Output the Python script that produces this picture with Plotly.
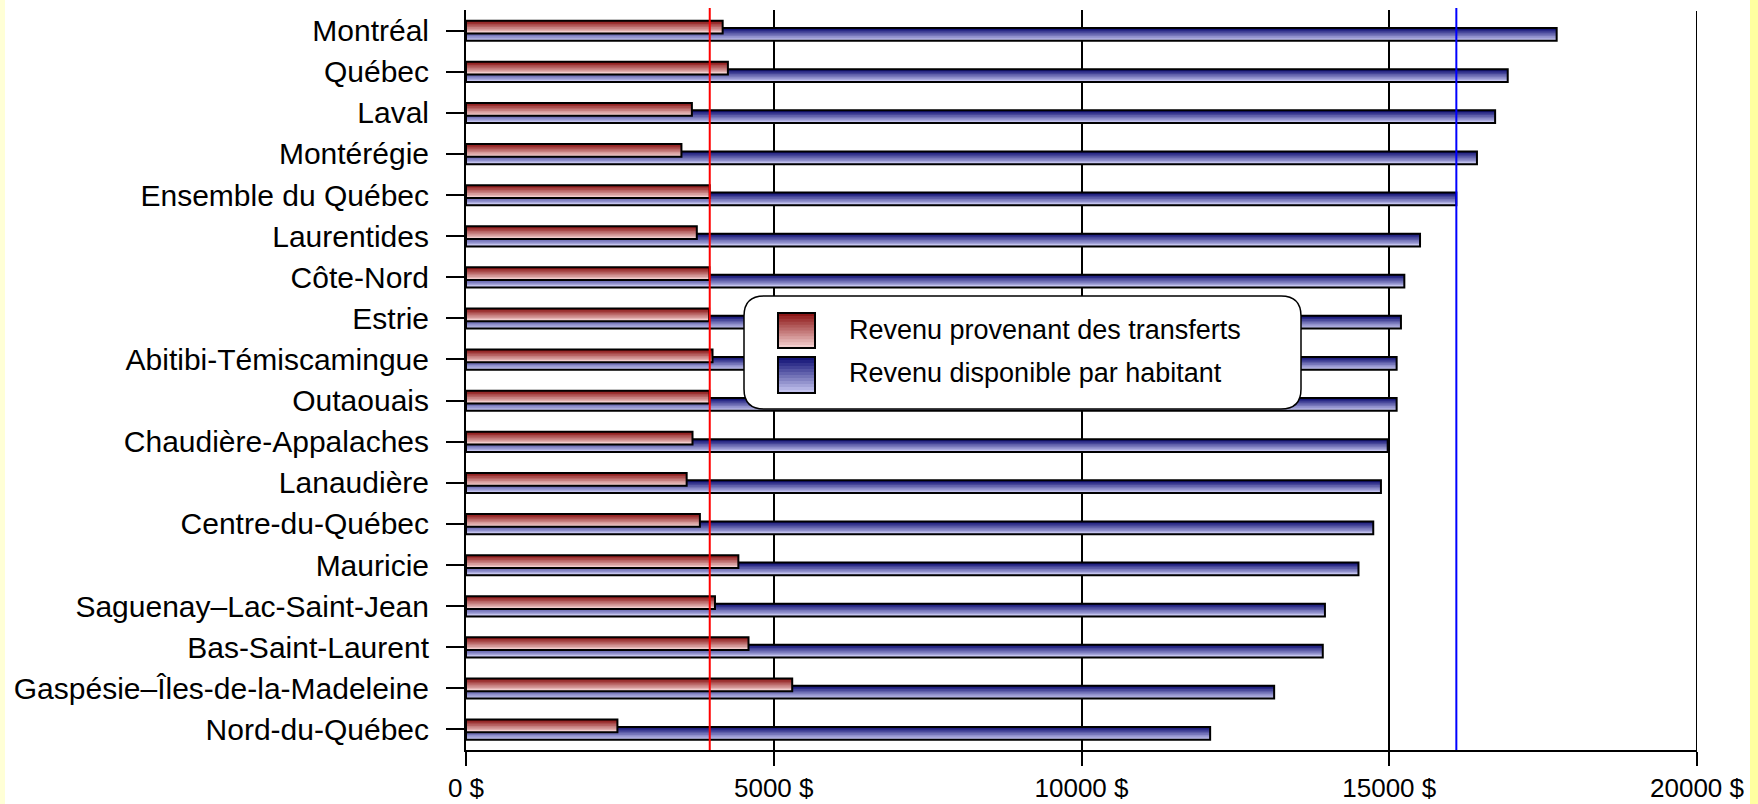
import plotly.graph_objects as go

# ---------------- data ----------------
regions = ["Montréal", "Québec", "Laval", "Montérégie", "Ensemble du Québec",
           "Laurentides", "Côte-Nord", "Estrie", "Abitibi-Témiscamingue",
           "Outaouais", "Chaudière-Appalaches", "Lanaudière", "Centre-du-Québec",
           "Mauricie", "Saguenay–Lac-Saint-Jean", "Bas-Saint-Laurent",
           "Gaspésie–Îles-de-la-Madeleine", "Nord-du-Québec"]
transferts = [4170, 4255, 3670, 3500, 3960, 3750, 3955, 3950, 4005, 3955,
              3680, 3585, 3800, 4425, 4045, 4590, 5300, 2460]
disponible = [17720, 16925, 16720, 16425, 16090, 15500, 15245, 15190, 15120,
              15120, 14975, 14865, 14740, 14500, 13955, 13920, 13130, 12090]
series_names = ["Revenu provenant des transferts", "Revenu disponible par habitant"]
x_tickvals = [0, 5000, 10000, 15000, 20000]
x_ticktext = ["0 $", "5000 $", "10000 $", "15000 $", "20000 $"]
reference_region = "Ensemble du Québec"

# ---------------- layout constants ----------------
W, H = 1758, 804
ML, MR, MT, MB = 466, 61, 10, 54
PW, PH = W - ML - MR, H - MT - MB
FONT = "Arial, 'Liberation Sans', sans-serif"


def px(x):
    return (x - ML) / PW


def py(y):
    return 1 - (y - MT) / PH


def lerp(c0, c1, t):
    return "rgb(%d,%d,%d)" % tuple(round(a + (b - a) * t) for a, b in zip(c0, c1))


RED_TOP, RED_BOT = (140, 22, 22), (242, 205, 205)
BLUE_TOP, BLUE_BOT = (18, 18, 118), (195, 195, 238)

BAR_W = 0.31
N = 8

fig = go.Figure()


def add_gradient_bars(values, name, offset, c_top, c_bot):
    s = BAR_W / N
    for i in range(N):
        t = i / (N - 1)
        w = s * 1.6 if i < N - 1 else s
        fig.add_trace(go.Bar(
            y=regions, x=values, orientation="h", offset=offset + i * s, width=w,
            marker=dict(color=lerp(c_top, c_bot, t), line=dict(width=0)),
            showlegend=False, hoverinfo="skip"))
    fig.add_trace(go.Bar(
        y=regions, x=values, orientation="h", name=name, offset=offset, width=BAR_W,
        marker=dict(color="rgba(0,0,0,0)", line=dict(color="black", width=2)),
        showlegend=False, hovertemplate="%{y}: %{x} $<extra>" + name + "</extra>"))


add_gradient_bars(disponible, series_names[1], -0.06, BLUE_TOP, BLUE_BOT)
add_gradient_bars(transferts, series_names[0], -0.24, RED_TOP, RED_BOT)

ref_i = regions.index(reference_region)
shapes = []
# gridline at the right end of the axis (plotly omits it at the plot edge)
shapes.append(dict(type="line", xref="x", yref="paper", x0=x_tickvals[-1], x1=x_tickvals[-1],
                   y0=0, y1=py(11), line=dict(color="black", width=2), layer="below"))
# reference lines (Ensemble du Québec)
shapes.append(dict(type="line", xref="x", yref="paper", x0=transferts[ref_i], x1=transferts[ref_i],
                   y0=0, y1=py(8), line=dict(color="#ff0000", width=2), layer="above"))
shapes.append(dict(type="line", xref="x", yref="paper", x0=disponible[ref_i], x1=disponible[ref_i],
                   y0=0, y1=py(8), line=dict(color="#0000ff", width=2), layer="above"))

# yellow side edges
shapes.append(dict(type="rect", xref="paper", yref="paper", x0=px(0), x1=px(5), y0=py(H), y1=py(0),
                   fillcolor="#ffffd6", line=dict(width=0), layer="below"))
shapes.append(dict(type="rect", xref="paper", yref="paper", x0=px(1750), x1=px(W), y0=py(H), y1=py(0),
                   fillcolor="#ffffa0", line=dict(width=0), layer="below"))

# legend box with rounded corners
L, R, T, B, r = 744, 1301, 296, 409, 20
path = (f"M {px(L + r)},{py(T)} L {px(R - r)},{py(T)} Q {px(R)},{py(T)} {px(R)},{py(T + r)} "
        f"L {px(R)},{py(B - r)} Q {px(R)},{py(B)} {px(R - r)},{py(B)} "
        f"L {px(L + r)},{py(B)} Q {px(L)},{py(B)} {px(L)},{py(B - r)} "
        f"L {px(L)},{py(T + r)} Q {px(L)},{py(T)} {px(L + r)},{py(T)} Z")
shapes.append(dict(type="path", xref="paper", yref="paper", path=path, fillcolor="white",
                   line=dict(color="black", width=1.5), layer="above"))

annotations = []
legend_rows = [(313, 348, RED_TOP, RED_BOT, 330), (357, 393, BLUE_TOP, BLUE_BOT, 373)]
for (y0, y1, ct, cb, _ty) in legend_rows:
    ns = 12
    h = (y1 - y0) / ns
    for i in range(ns):
        shapes.append(dict(type="rect", xref="paper", yref="paper", x0=px(778), x1=px(815),
                           y0=py(y0 + i * h), y1=py(min(y1, y0 + (i + 1.5) * h)),
                           fillcolor=lerp(ct, cb, i / (ns - 1)), line=dict(width=0), layer="above"))
    shapes.append(dict(type="rect", xref="paper", yref="paper", x0=px(778), x1=px(815),
                       y0=py(y0), y1=py(y1), line=dict(color="black", width=2), layer="above"))
for row, name in zip(legend_rows, series_names):
    annotations.append(dict(xref="paper", yref="paper", x=px(847), y=py(row[4]), text=name,
                            showarrow=False, xanchor="left", yanchor="middle",
                            font=dict(family=FONT, size=27, color="black")))

fig.update_layout(
    width=W, height=H, autosize=False,
    margin=dict(l=ML, r=MR, t=MT, b=MB, pad=0),
    paper_bgcolor="white", plot_bgcolor="white",
    barmode="overlay", showlegend=False,
    font=dict(family=FONT, size=28, color="black"),
    shapes=shapes, annotations=annotations,
    xaxis=dict(range=[0, 20000], tickvals=x_tickvals, ticktext=x_ticktext,
               showgrid=True, gridcolor="black", gridwidth=2, zeroline=False,
               showline=True, linecolor="black", linewidth=2,
               ticks="outside", ticklen=14, tickwidth=2, tickcolor="black",
               automargin=False,
               tickfont=dict(family=FONT, size=26, color="black")),
    yaxis=dict(type="category", categoryorder="array", categoryarray=regions,
               range=[len(regions) - 0.5, -0.5], showgrid=False, zeroline=False,
               showline=True, linecolor="black", linewidth=2,
               ticks="outside", ticklen=18, tickwidth=2, tickcolor="black",
               ticklabelstandoff=11, automargin=False,
               tickfont=dict(family=FONT, size=30, color="black")),
)

fig.write_html("out.html", config={"displayModeBar": False},
               post_script="document.body.style.margin='0';document.body.style.overflow='hidden';")
